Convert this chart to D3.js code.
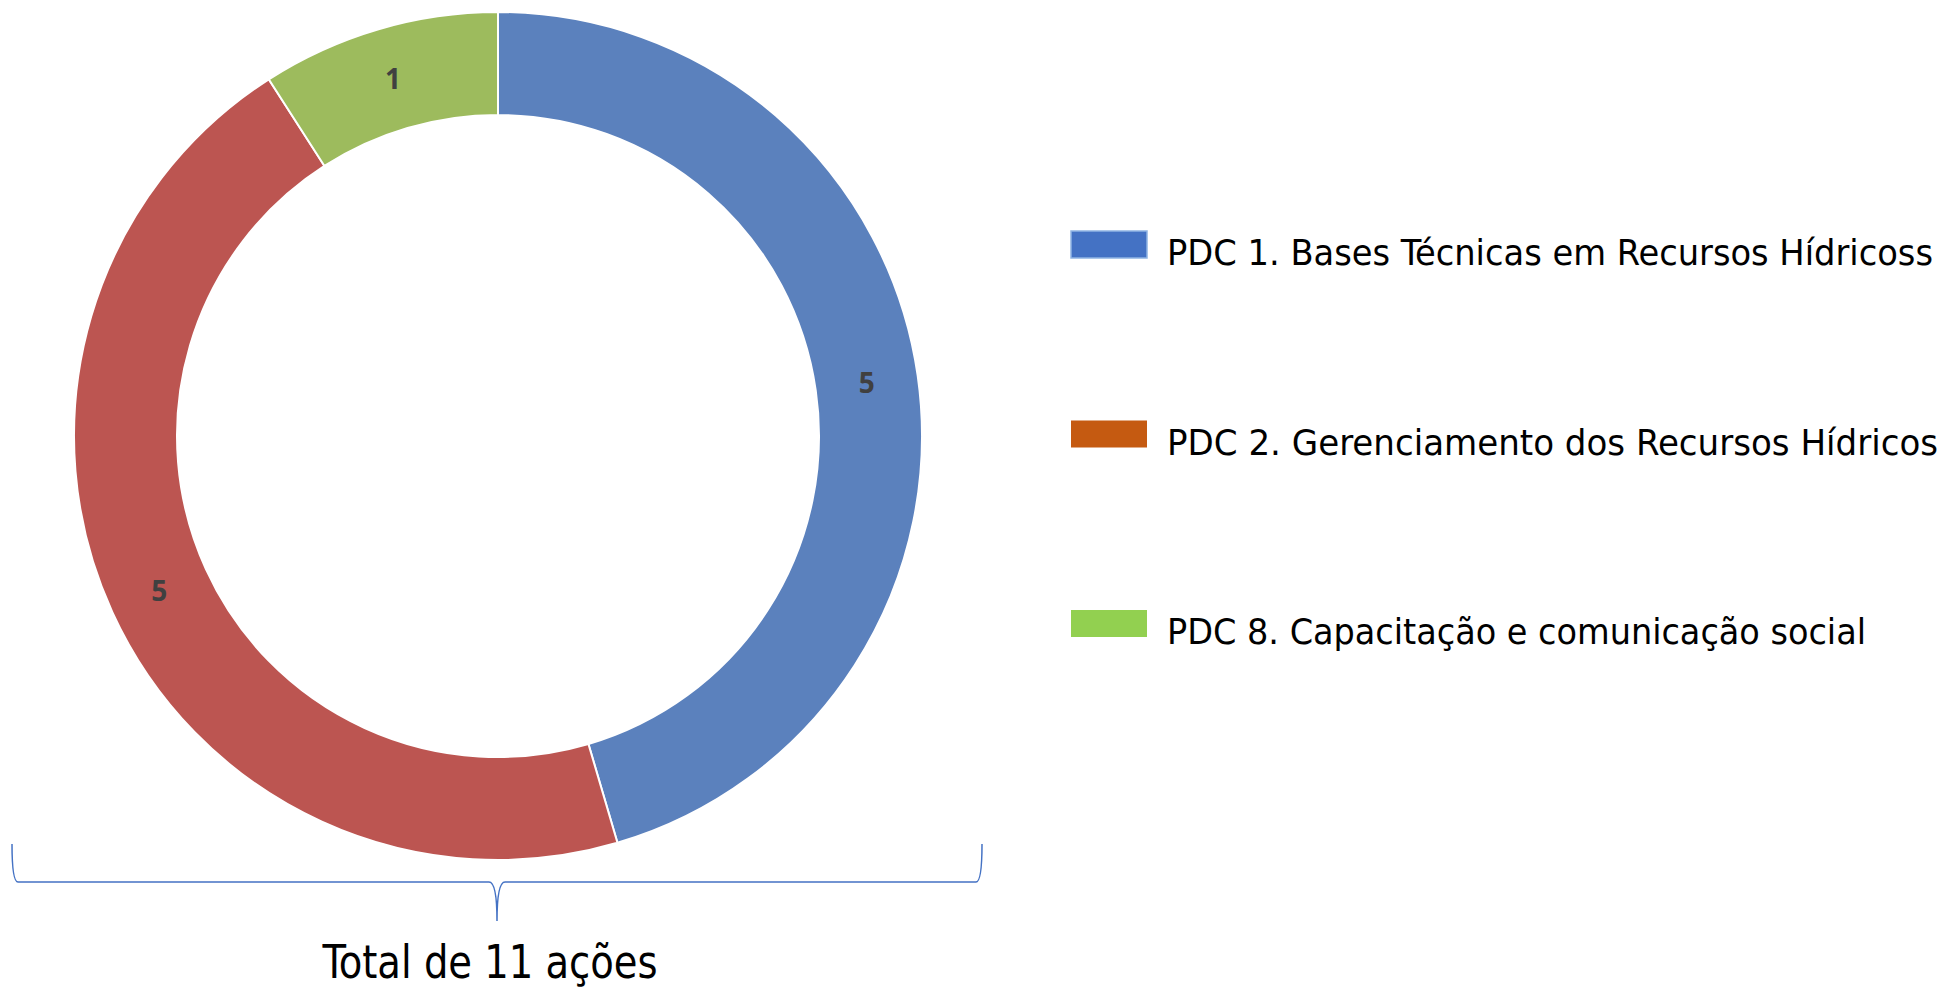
<!DOCTYPE html>
<html>
<head>
<meta charset="utf-8">
<script src="https://cdn.jsdelivr.net/npm/d3@7"></script>
<style>
html,body{margin:0;padding:0;background:#fff;}
svg{display:block;}
</style>
</head>
<body>
<script>
const categories = ["PDC 1. Bases Técnicas em Recursos Hídricoss",
                    "PDC 2. Gerenciamento dos Recursos Hídricos",
                    "PDC 8. Capacitação e comunicação social"];
const values = [5, 5, 1];
const sliceColors = ["#5B81BD", "#BC5551", "#9DBB5D"];
const legendColors = ["#4472C4", "#C55A11", "#92D050"];
const legendTextWidths = [766, 771, 699];
const totalLabel = "Total de " + d3.sum(values) + " ações";

const W = 1946, H = 989;
const cx = 498, cy = 436, rOut = 424, rIn = 321;
const font = "'Liberation Sans Narrow', 'DejaVu Sans Condensed', Lato, sans-serif";

const svg = d3.select("body").append("svg").attr("width", W).attr("height", H);

const pie = d3.pie().sort(null).value(d => d)(values);
const arc = d3.arc().innerRadius(rIn).outerRadius(rOut);
const labelArc = d3.arc().innerRadius((rIn + rOut) / 2).outerRadius((rIn + rOut) / 2);

const g = svg.append("g").attr("transform", `translate(${cx},${cy})`);
g.selectAll("path").data(pie).join("path")
  .attr("d", arc)
  .attr("fill", (d, i) => sliceColors[i])
  .attr("stroke", "#fff")
  .attr("stroke-width", 2);

g.selectAll("text").data(pie).join("text")
  .attr("transform", d => `translate(${labelArc.centroid(d)})`)
  .attr("text-anchor", "middle")
  .attr("dy", "0.36em")
  .attr("font-family", "'Open Sans', Lato, sans-serif")
  .attr("font-weight", "bold")
  .attr("font-size", 28)
  .attr("fill", "#404040")
  .text(d => d.data);

// Legend
const legY = d3.scalePoint().domain(categories).range([244, 623]);
const leg = svg.append("g");
categories.forEach((c, i) => {
  const y = legY(c);
  leg.append("rect")
    .attr("x", 1071).attr("y", y - 13).attr("width", 76).attr("height", 27)
    .attr("fill", legendColors[i])
    .attr("stroke", i === 0 ? "#8FB4E3" : "none")
    .attr("stroke-width", i === 0 ? 1.5 : 0);
  leg.append("text")
    .attr("x", 1167).attr("y", y + 21)
    .attr("font-family", font)
    .attr("font-size", 35)
    .attr("fill", "#000")
    .attr("textLength", legendTextWidths[i])
    .attr("lengthAdjust", "spacingAndGlyphs")
    .text(c);
});

// Curly brace below donut
const bx0 = 12, bx1 = 982, bTop = 844, bLine = 882, bTip = 921, bMid = cx - 1;
const brace = d3.path();
brace.moveTo(bx0, bTop);
brace.quadraticCurveTo(bx0, bLine, bx0 + 6, bLine);
brace.lineTo(bMid - 8, bLine);
brace.quadraticCurveTo(bMid, bLine, bMid, bTip);
brace.quadraticCurveTo(bMid, bLine, bMid + 8, bLine);
brace.lineTo(bx1 - 6, bLine);
brace.quadraticCurveTo(bx1, bLine, bx1, bTop);
svg.append("path").attr("d", brace.toString())
  .attr("fill", "none").attr("stroke", "#4472C4").attr("stroke-width", 1.5);

svg.append("text")
  .attr("x", 490).attr("y", 978)
  .attr("text-anchor", "middle")
  .attr("font-family", font)
  .attr("font-size", 46)
  .attr("fill", "#000")
  .attr("textLength", 335)
  .attr("lengthAdjust", "spacingAndGlyphs")
  .text(totalLabel);
</script>
</body>
</html>
